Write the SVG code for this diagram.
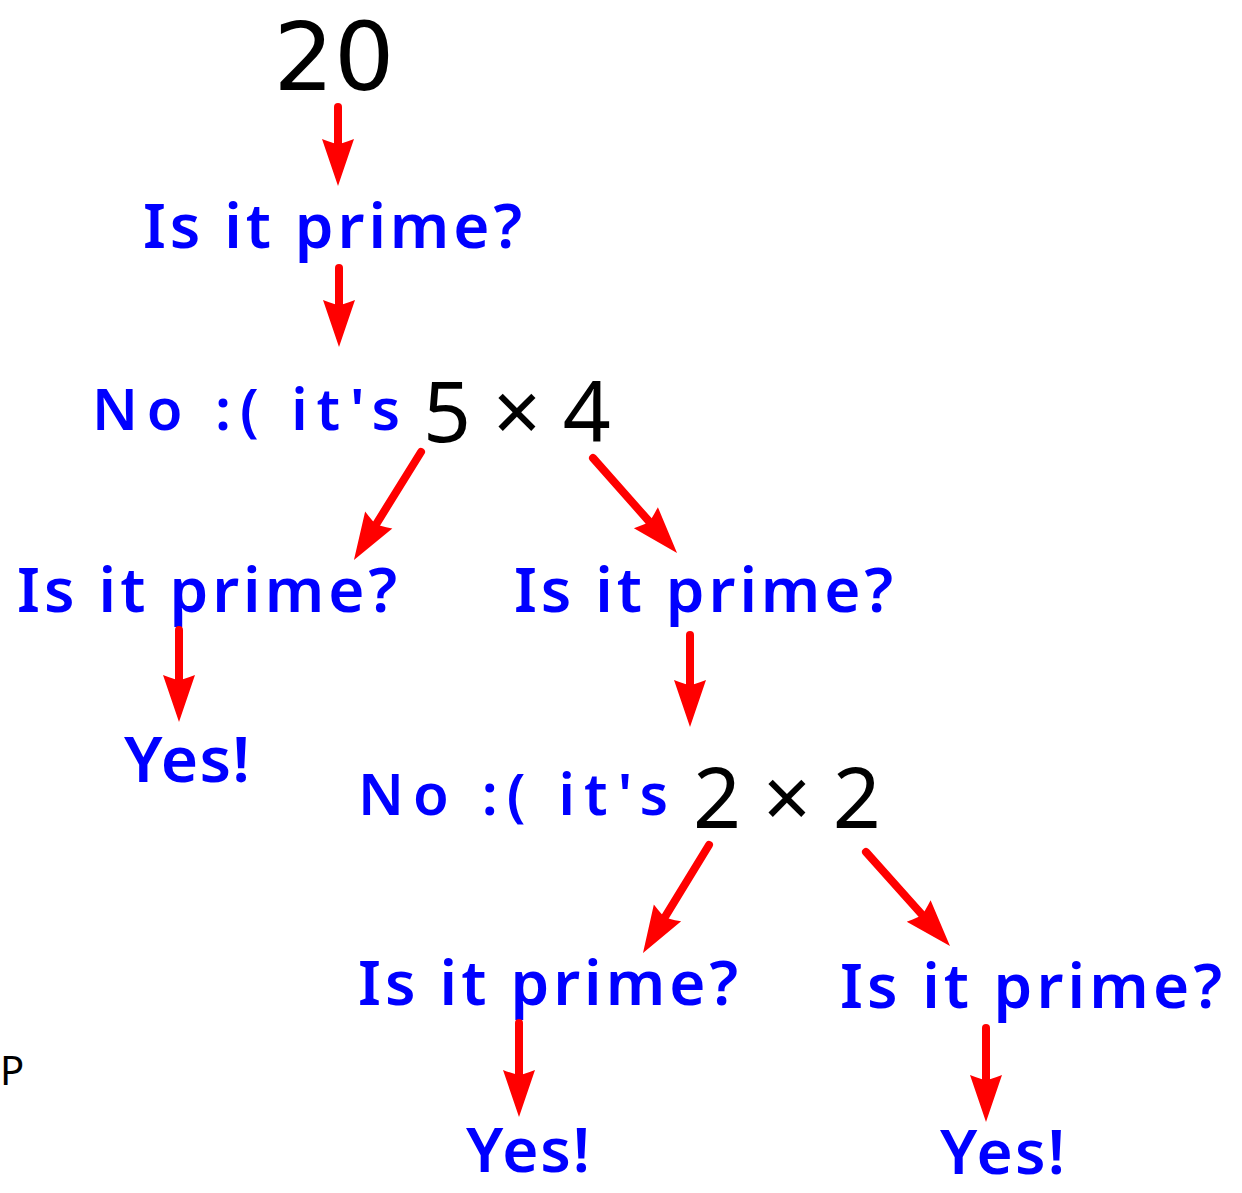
<svg xmlns="http://www.w3.org/2000/svg" width="1242" height="1193" viewBox="0 0 1242 1193">
<style>
.num{font-family:"Noto Sans","DejaVu Sans",sans-serif;fill:#000;}
.big{font-family:"DejaVu Sans","Noto Sans",sans-serif;fill:#000;}
.hw{font-family:"Noto Sans","DejaVu Sans",sans-serif;fill:#0000ff;font-weight:600;}
.arr{stroke:#ff0000;stroke-width:8;stroke-linecap:round;fill:none;marker-end:url(#head);}
</style>
<defs>
<marker id="head" markerUnits="userSpaceOnUse" markerWidth="60" markerHeight="40" refX="0" refY="0" viewBox="-10 -20 60 40" orient="auto" overflow="visible">
<path d="M42,0 L-5,-16 Q0,-3 0,0 Q0,3 -5,16 Z" fill="#ff0000"/>
</marker>
</defs>
<rect width="1242" height="1193" fill="#fff"/>
<g id="n20"><text class="big" x="334" y="89.5" font-size="95" text-anchor="middle">20</text></g>
<g id="q1"><text class="hw" x="143" y="248" font-size="62" textLength="379" lengthAdjust="spacing">Is it prime?</text></g>
<g id="no1"><text class="hw" x="92" y="430" font-size="58" textLength="308" lengthAdjust="spacing">No :( it's</text><text class="num" x="423" y="442" font-size="84">5 × 4</text></g>
<g id="q2"><text class="hw" x="17" y="612" font-size="62" textLength="380" lengthAdjust="spacing">Is it prime?</text></g>
<g id="q3"><text class="hw" x="514" y="612" font-size="62" textLength="379" lengthAdjust="spacing">Is it prime?</text></g>
<g id="yes1"><text class="hw" x="124" y="782" font-size="64" textLength="126" lengthAdjust="spacing">Yes!</text></g>
<g id="no2"><text class="hw" x="358" y="815" font-size="58" textLength="310" lengthAdjust="spacing">No :( it's</text><text class="num" x="693" y="828" font-size="84">2 × 2</text></g>
<g id="q4"><text class="hw" x="358" y="1005" font-size="62" textLength="380" lengthAdjust="spacing">Is it prime?</text></g>
<g id="q5"><text class="hw" x="840" y="1008" font-size="62" textLength="382" lengthAdjust="spacing">Is it prime?</text></g>
<g id="yes2"><text class="hw" x="466" y="1172" font-size="62" textLength="124" lengthAdjust="spacing">Yes!</text></g>
<g id="yes3"><text class="hw" x="940" y="1174" font-size="62" textLength="125" lengthAdjust="spacing">Yes!</text></g>
<g id="p"><text class="num" x="0" y="1085" font-size="40">P</text></g>
<g id="connectors">
<path class="arr" d="M338,107 L338,144"/>
<path class="arr" d="M339,268 L339,305"/>
<path class="arr" d="M421,452 L376.1,524.3"/>
<path class="arr" d="M593,458 L649.2,521.5"/>
<path class="arr" d="M179,630 L179,680"/>
<path class="arr" d="M690,635 L690,685"/>
<path class="arr" d="M709,845 L664.9,917.2"/>
<path class="arr" d="M866,852 L922,914.7"/>
<path class="arr" d="M519,1023 L519,1075"/>
<path class="arr" d="M986,1028 L986,1080"/>
</g>
</svg>
